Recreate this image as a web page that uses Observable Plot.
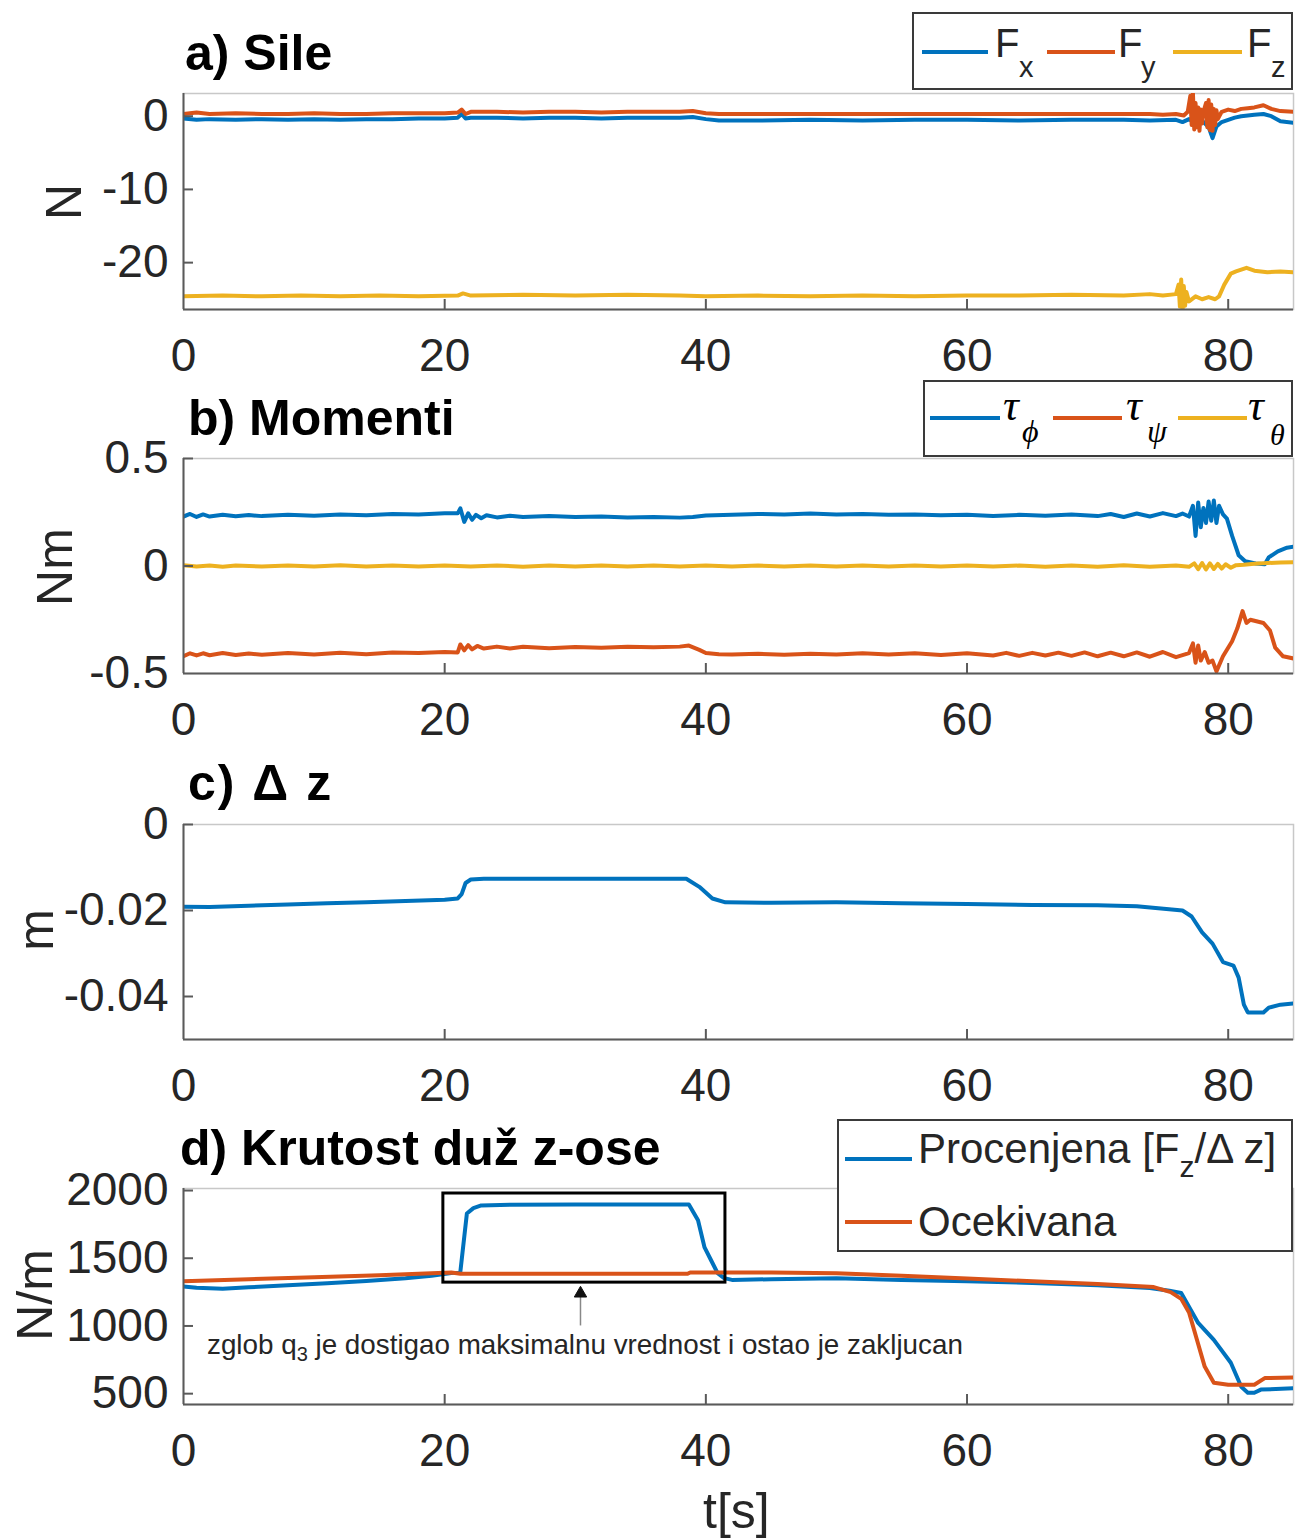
<!DOCTYPE html>
<html><head><meta charset="utf-8">
<script src="https://cdn.jsdelivr.net/npm/d3@7"></script>
<script src="https://cdn.jsdelivr.net/npm/@observablehq/plot@0.6"></script>
<style>
body{margin:0;background:#fff;}
#root{position:relative;width:1303px;height:1540px;overflow:hidden;font-family:"Liberation Sans",Arial,Helvetica,sans-serif;color:#262626;}
#root svg{position:absolute;left:0;}
.t{position:absolute;white-space:nowrap;line-height:1;}
.box{position:absolute;background:#fff;border:2px solid #3a3a3a;box-sizing:border-box;}
.ln{position:absolute;height:4px;}
</style></head><body><div id="root"></div>
<script>
// ---------- data: time [s], value ----------
const xTicks = [0, 20, 40, 60, 80];

// a) Sile [N]
const fx = [[0,-0.3],[1,-0.5],[2,-0.4],[4,-0.5],[6,-0.4],[8,-0.5],[10,-0.4],[12,-0.5],[14,-0.4],[16,-0.4],[18,-0.3],[20,-0.3],[21,-0.2],[21.3,0.3],[21.6,-0.3],[22,-0.2],[24,-0.2],[26,-0.3],[28,-0.2],[30,-0.2],[32,-0.3],[34,-0.2],[36,-0.2],[38,-0.2],[39,-0.1],[40,-0.4],[41,-0.6],[44,-0.6],[48,-0.5],[52,-0.6],[56,-0.5],[60,-0.5],[64,-0.6],[68,-0.5],[72,-0.5],[74,-0.6],[76,-0.5],[76.5,-0.8],[77,-0.4],[77.5,-1.0],[78,-0.6],[78.5,-1.5],[78.8,-3.0],[79.1,-1.4],[79.5,-0.8],[80,-0.5],[80.5,-0.2],[81,0.0],[82,0.2],[82.7,0.3],[83.3,0.0],[84,-0.7],[85,-0.9]];
const fy = [[0,0.3],[1,0.5],[2,0.3],[4,0.4],[6,0.3],[8,0.3],[10,0.4],[12,0.3],[14,0.3],[16,0.4],[18,0.4],[20,0.4],[21,0.5],[21.3,0.9],[21.6,0.3],[22,0.6],[24,0.6],[26,0.5],[28,0.6],[30,0.6],[32,0.5],[34,0.6],[36,0.6],[38,0.6],[39,0.7],[40,0.4],[41,0.3],[44,0.3],[48,0.3],[52,0.3],[56,0.3],[60,0.3],[64,0.3],[68,0.3],[72,0.3],[74,0.3],[75,0.2],[76,0.3],[76.6,0.1],[76.9,0.6],[77.1,2.8],[77.2,-1.2],[77.3,3.1],[77.4,-1.8],[77.5,1.8],[77.6,-1.5],[77.7,1.2],[77.8,-2.0],[77.9,0.9],[78.0,-1.0],[78.1,0.6],[78.3,1.8],[78.4,-1.5],[78.5,2.2],[78.6,-1.9],[78.7,1.6],[78.8,-2.0],[78.9,1.0],[79.0,-1.2],[79.1,0.8],[79.2,-0.4],[79.5,0.6],[80,0.9],[80.5,0.7],[81,1.0],[81.5,1.1],[82,1.2],[82.7,1.5],[83.3,1.0],[84,0.7],[85,0.6]];
const fz = [[0,-24.6],[3,-24.5],[6,-24.6],[9,-24.5],[12,-24.6],[15,-24.5],[18,-24.6],[21,-24.5],[21.4,-24.2],[22,-24.5],[26,-24.4],[30,-24.5],[34,-24.4],[38,-24.5],[40,-24.6],[44,-24.5],[48,-24.6],[52,-24.5],[56,-24.6],[60,-24.5],[64,-24.5],[68,-24.4],[72,-24.5],[74,-24.3],[75,-24.5],[76,-24.3],[76.2,-23.0],[76.3,-26.0],[76.4,-22.3],[76.5,-26.8],[76.6,-23.2],[76.7,-25.9],[76.8,-24.0],[77,-25.3],[77.5,-24.6],[78,-25.0],[78.5,-24.7],[79,-25.0],[79.3,-24.6],[79.7,-23.0],[80.2,-21.5],[80.6,-21.2],[81.4,-20.7],[82,-21.1],[83,-21.3],[84,-21.2],[85,-21.3]];
const forceTicks = [-20, -10, 0];

// b) Momenti [Nm]
const tauPhi = [[0,0.23],[0.5,0.242],[1,0.228],[1.5,0.24],[2,0.23],[3,0.238],[4,0.231],[5,0.237],[6,0.232],[8,0.238],[10,0.234],[12,0.24],[14,0.236],[16,0.242],[18,0.24],[20,0.245],[21,0.245],[21.2,0.268],[21.5,0.205],[21.8,0.245],[22.1,0.215],[22.4,0.238],[22.8,0.222],[23.2,0.236],[24,0.226],[25,0.234],[26,0.228],[28,0.232],[30,0.228],[32,0.23],[34,0.226],[36,0.228],[38,0.225],[39,0.228],[40,0.235],[42,0.238],[44,0.242],[46,0.24],[48,0.244],[50,0.24],[52,0.242],[54,0.238],[56,0.24],[58,0.236],[60,0.238],[62,0.232],[64,0.238],[66,0.234],[68,0.24],[70,0.232],[71,0.242],[72,0.228],[73,0.244],[74,0.23],[75,0.246],[76,0.232],[76.5,0.244],[77,0.23],[77.3,0.28],[77.5,0.14],[77.7,0.295],[77.9,0.18],[78.1,0.27],[78.3,0.2],[78.5,0.3],[78.7,0.21],[78.9,0.305],[79.1,0.2],[79.3,0.28],[79.6,0.24],[79.9,0.22],[80.3,0.14],[80.8,0.05],[81.3,0.022],[82.1,0.012],[82.8,0.008],[83.1,0.04],[83.8,0.068],[84.5,0.085],[85,0.09]];
const tauPsi = [[0,-0.42],[0.5,-0.406],[1,-0.416],[1.5,-0.406],[2,-0.415],[3,-0.405],[4,-0.414],[5,-0.407],[6,-0.413],[8,-0.405],[10,-0.412],[12,-0.403],[14,-0.41],[16,-0.402],[18,-0.405],[20,-0.4],[21,-0.402],[21.2,-0.365],[21.5,-0.392],[21.8,-0.368],[22.1,-0.388],[22.5,-0.372],[23,-0.384],[24,-0.375],[25,-0.384],[26,-0.376],[28,-0.382],[30,-0.377],[32,-0.38],[34,-0.376],[36,-0.378],[38,-0.375],[38.7,-0.37],[39.5,-0.39],[40,-0.405],[41,-0.41],[42,-0.412],[44,-0.408],[46,-0.413],[48,-0.408],[50,-0.412],[52,-0.406],[54,-0.412],[56,-0.406],[58,-0.414],[60,-0.406],[62,-0.416],[63,-0.404],[64,-0.418],[65,-0.404],[66,-0.416],[67,-0.403],[68,-0.418],[69,-0.402],[70,-0.42],[71,-0.403],[72,-0.42],[73,-0.402],[74,-0.422],[75,-0.4],[76,-0.424],[77,-0.405],[77.3,-0.36],[77.5,-0.45],[77.7,-0.37],[77.9,-0.44],[78.2,-0.4],[78.5,-0.45],[78.8,-0.44],[79.1,-0.49],[79.6,-0.42],[80.3,-0.35],[80.7,-0.29],[81.1,-0.21],[81.4,-0.265],[81.7,-0.25],[82.7,-0.265],[83.2,-0.3],[83.6,-0.38],[84.2,-0.42],[85,-0.43]];
const tauTheta = [[0,0.003],[1,-0.002],[2,0.002],[3,-0.003],[4,0.002],[6,-0.002],[8,0.002],[10,-0.002],[12,0.003],[14,-0.002],[16,0.002],[18,-0.002],[20,0.002],[22,-0.002],[24,0.002],[26,-0.003],[28,0.002],[30,-0.002],[32,0.002],[34,-0.002],[36,0.002],[38,-0.002],[40,0.002],[42,-0.002],[44,0.002],[46,-0.002],[48,0.002],[50,-0.002],[52,0.002],[54,-0.002],[56,0.002],[58,-0.002],[60,0.002],[62,-0.002],[64,0.002],[66,-0.003],[68,0.002],[70,-0.003],[72,0.003],[74,-0.003],[76,0.002],[77,-0.004],[77.4,0.012],[77.7,-0.015],[78,0.014],[78.3,-0.016],[78.6,0.012],[78.9,-0.014],[79.2,0.01],[79.5,-0.012],[79.8,0.008],[80.2,-0.008],[80.6,0.004],[81.2,0.006],[82,0.01],[83,0.014],[84,0.016],[85,0.018]];
const momentTicks = [-0.5, 0, 0.5];

// c) Δz [m]
const dz = [[0,-0.0191],[2,-0.0192],[5,-0.0189],[8,-0.0186],[11,-0.0183],[14,-0.0181],[17,-0.0178],[20,-0.0175],[21,-0.0172],[21.3,-0.0162],[21.6,-0.0136],[22,-0.0128],[23,-0.0126],[30,-0.0126],[38.5,-0.0126],[39.5,-0.0145],[40.5,-0.0172],[41.5,-0.0181],[45,-0.0182],[50,-0.0181],[55,-0.0183],[60,-0.0185],[65,-0.0187],[70,-0.0188],[73,-0.019],[76.5,-0.02],[77.2,-0.0214],[78,-0.0251],[78.8,-0.0277],[79.6,-0.032],[80.4,-0.0328],[80.8,-0.0356],[81.2,-0.0419],[81.5,-0.0437],[82.7,-0.0437],[83.1,-0.0426],[84,-0.0419],[85,-0.0416]];
const dzTicks = [-0.04, -0.02, 0];

// d) Krutost duž z-ose [N/m]
const kEstimated = [[0,1292],[1,1282],[3,1275],[5,1285],[8,1300],[11,1315],[14,1332],[17,1352],[19,1370],[20.5,1390],[21.2,1400],[21.7,1830],[22.2,1870],[22.8,1890],[25,1895],[30,1897],[35,1897],[38.7,1897],[39.4,1780],[39.9,1580],[40.4,1485],[40.9,1390],[41.4,1353],[42,1340],[45,1345],[50,1352],[55,1340],[60,1330],[65,1318],[70,1300],[74,1280],[75.5,1260],[76.4,1243],[77.7,1022],[78.9,897],[80.2,728],[81,551],[81.5,507],[82,507],[82.5,530],[85,540]];
const kExpected = [[0,1330],[5,1345],[10,1360],[15,1375],[19,1390],[20.5,1395],[21.2,1385],[30,1385],[38.6,1385],[38.8,1395],[42,1395],[45,1395],[50,1390],[55,1370],[60,1350],[65,1330],[70,1310],[74.3,1287],[75.6,1250],[76.4,1200],[77,1100],[77.6,900],[78.2,700],[78.9,581],[80,566],[82,566],[82.8,615],[85,620]];
const stiffTicks = [500, 1000, 1500, 2000];
const lockBox = {t0: 19.9, t1: 41.5, k0: 1320, k1: 1978};
const lockArrow = {t: 30.4, kFrom: 1000, kTo: 1270, kHead: 1240};

const C = {blue: "#0072BD", orange: "#D95319", yellow: "#EDB120"};

// ---------- layout helpers ----------
const root = document.getElementById("root");
const FONT = '"Liberation Sans", Arial, Helvetica, sans-serif';
function txt(html, left, baseline, size, css = "") {
  const d = document.createElement("div");
  d.className = "t";
  d.style.cssText = `left:${left}px;top:${baseline - 0.8465 * size}px;font-size:${size}px;${css}`;
  d.innerHTML = html;
  root.appendChild(d);
  return d;
}
function vtxt(html, cx, cy, size) {
  const d = document.createElement("div");
  d.className = "t";
  d.style.cssText = `left:${cx}px;top:${cy}px;font-size:${size}px;transform:translate(-50%,-50%) rotate(-90deg);`;
  d.innerHTML = html;
  root.appendChild(d);
}
function box(l, t, w, h) {
  const d = document.createElement("div");
  d.className = "box";
  d.style.cssText = `left:${l}px;top:${t}px;width:${w}px;height:${h}px;`;
  root.appendChild(d);
}
function seg(l, y, w, color) {
  const d = document.createElement("div");
  d.className = "ln";
  d.style.cssText = `left:${l}px;top:${y - 2}px;width:${w}px;background:${color};`;
  root.appendChild(d);
}

function panel({top, mt, mb, height, yDomain, yTicks, series, extra = []}) {
  const innerH = height - mt - mb, innerW = 1303 - 183 - 10;
  const svg = Plot.plot({
    width: 1303, height, marginTop: mt, marginBottom: mb, marginLeft: 183, marginRight: 10,
    x: {domain: [0, 85]},
    y: {domain: yDomain},
    style: {fontFamily: FONT, fontSize: "46px", color: "#262626", background: "none", overflow: "visible"},
    marks: [
      Plot.frame({stroke: "#c8c8c8", strokeWidth: 1.5}),
      ...series.map(s => Plot.line(s.data, {x: d => d[0], y: d => d[1], stroke: s.color, strokeWidth: 4, clip: true})),
      ...extra,
      Plot.ruleX([0], {stroke: "#5a5a5a", strokeWidth: 2}),
      Plot.ruleY([yDomain[0]], {stroke: "#5a5a5a", strokeWidth: 2}),
      Plot.tickX(xTicks.slice(1), {x: d => d, insetTop: innerH - 10, stroke: "#5a5a5a", strokeWidth: 2}),
      Plot.tickY(yTicks.filter(v => v > yDomain[0]), {y: d => d, insetRight: innerW - 10, stroke: "#5a5a5a", strokeWidth: 2}),
      Plot.axisX(xTicks, {tickSize: 0, tickPadding: 29, fontSize: 46, tickFormat: d => String(d), label: null}),
      Plot.axisY(yTicks, {tickSize: 0, tickPadding: 15, fontSize: 46, tickFormat: d => String(d), label: null})
    ]
  });
  svg.style.top = top + "px";
  root.appendChild(svg);
}

// ---------- panels ----------
panel({top: 0, mt: 93, mb: 71, height: 380, yDomain: [-26.4, 3.1], yTicks: forceTicks,
  series: [{data: fx, color: C.blue}, {data: fy, color: C.orange}, {data: fz, color: C.yellow}]});
panel({top: 380, mt: 78, mb: 72, height: 365, yDomain: [-0.5, 0.5], yTicks: momentTicks,
  series: [{data: tauPhi, color: C.blue}, {data: tauPsi, color: C.orange}, {data: tauTheta, color: C.yellow}]});
panel({top: 745, mt: 79, mb: 71, height: 365, yDomain: [-0.05, 0], yTicks: dzTicks,
  series: [{data: dz, color: C.blue}]});
panel({top: 1110, mt: 78, mb: 136, height: 430, yDomain: [420, 2015], yTicks: stiffTicks,
  series: [{data: kEstimated, color: C.blue}, {data: kExpected, color: C.orange}],
  extra: [
    Plot.rect([lockBox], {x1: "t0", x2: "t1", y1: "k0", y2: "k1", fill: "none", stroke: "#000", strokeWidth: 3}),
    Plot.ruleX([lockArrow], {x: "t", y1: "kFrom", y2: "kTo", stroke: "#888", strokeWidth: 1.5}),
    Plot.dot([lockArrow], {x: "t", y: "kHead", symbol: "triangle", r: 4.6, fill: "#111", stroke: "#111", strokeWidth: 1})
  ]});

// ---------- titles ----------
const TB = "font-weight:bold;color:#000;";
txt("a) Sile", 185, 70, 50, TB);
txt("b) Momenti", 188, 435, 50, TB);
txt("c) &Delta; z", 188, 800, 50, TB.replace("color:#000;", "color:#000;letter-spacing:2px;"));
txt("d) Krutost duž z-ose", 180, 1165, 50, TB);

// ---------- axis labels ----------
vtxt("N", 64, 202, 50);
vtxt("Nm", 55, 567, 50);
vtxt("m", 36, 930, 50);
vtxt("N/m", 35, 1295, 50);
txt("t[s]", 703, 1528, 50);

// ---------- legends ----------
box(912, 12, 381, 78);
seg(922, 52, 66, C.blue);   txt("F", 995, 57, 40); txt("x", 1019, 78, 29);
seg(1047, 52, 68, C.orange); txt("F", 1118, 57, 40); txt("y", 1141, 78, 29);
seg(1173, 52, 69, C.yellow); txt("F", 1247, 57, 40); txt("z", 1271, 78, 29);

const SERIF = 'font-family:"Liberation Serif","DejaVu Serif",serif;font-style:italic;color:#000;';
box(923, 380, 370, 77);
seg(930, 418, 70, C.blue);   txt("τ", 1003, 421, 44, SERIF); txt("ϕ", 1022, 442, 32, SERIF);
seg(1053, 418, 69, C.orange); txt("τ", 1126, 421, 44, SERIF); txt("ψ", 1147, 442, 32, SERIF);
seg(1178, 418, 69, C.yellow); txt("τ", 1248, 421, 44, SERIF); txt("θ", 1270, 445, 30, SERIF);

box(837, 1119, 456, 133);
seg(845, 1159, 67, C.blue);
txt('Procenjena [F<span style="font-size:30px;position:relative;top:14px">z</span>/&Delta; z]', 918, 1164, 42);
seg(845, 1222, 67, C.orange);
txt("Ocekivana", 918, 1237, 42);

// ---------- annotation text ----------
txt('zglob q<span style="font-size:20px;position:relative;top:7px">3</span> je dostigao maksimalnu vrednost i ostao je zakljucan', 207, 1355, 27.8, "color:#262626;");
</script></body></html>
